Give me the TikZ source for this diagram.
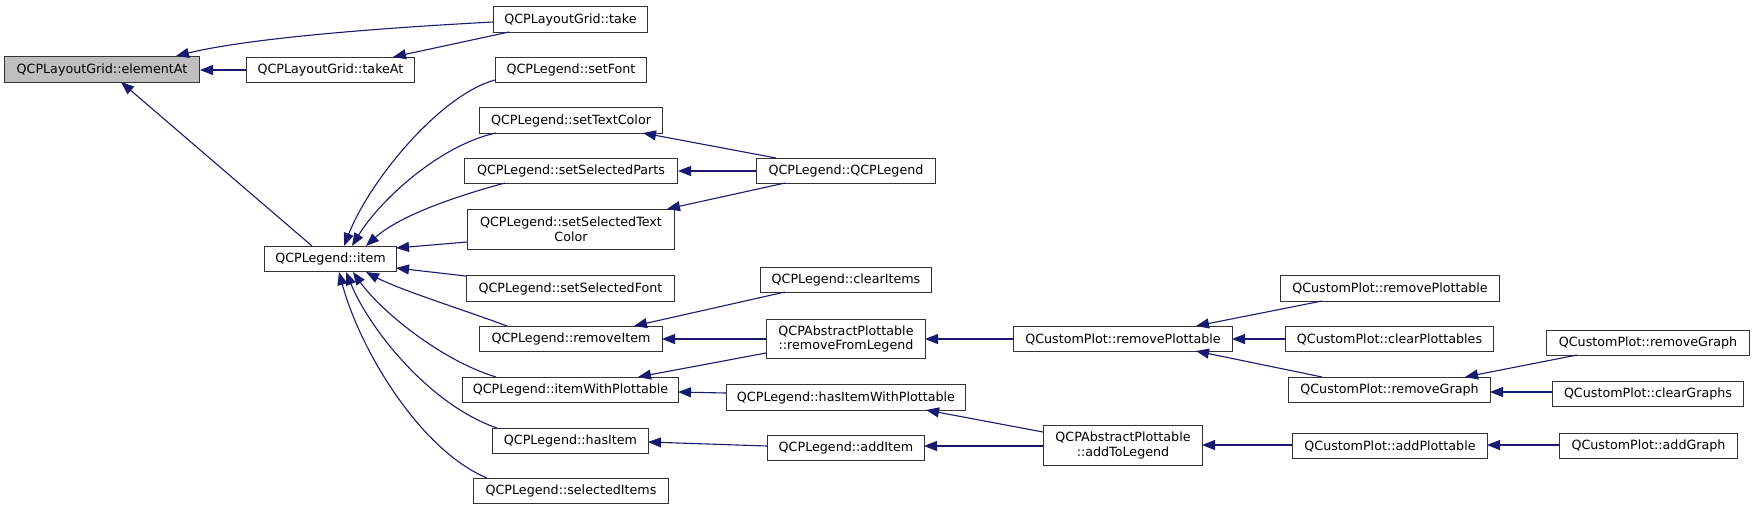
\documentclass[tikz,border=0pt]{standalone}
\usepackage{fontspec}
\setmainfont{DejaVu Sans}
\usetikzlibrary{arrows.meta}
\definecolor{edgeblue}{RGB}{25,25,112}
\definecolor{boxgray}{RGB}{191,191,191}
\begin{document}
\begin{tikzpicture}[x=1pt,y=-1pt,
  box/.style={draw=black!80, line width=1pt, fill=white, inner sep=0pt, anchor=north west,
    font=\fontsize{12.7}{14.6}\selectfont, align=center, minimum height=25pt},
  tall/.style={minimum height=40pt},
  edge/.style={draw=edgeblue, line width=1.1pt, -{Triangle[length=13pt,width=10pt]}}]
\useasboundingbox (0,0) rectangle (1755,509);
% nodes
\node[box, fill=boxgray, minimum width=195pt, minimum height=26pt] (el) at (4,56) {QCPLayoutGrid::elementAt};
\node[box, minimum width=168pt] (takeAt) at (246,57) {QCPLayoutGrid::takeAt};
\node[box, minimum width=154pt, minimum height=26pt] (take) at (493,6) {QCPLayoutGrid::take};
\node[box, minimum width=151pt] (setFont) at (495,57) {QCPLegend::setFont};
\node[box, minimum width=183pt, minimum height=26pt] (stc) at (479,107) {QCPLegend::setTextColor};
\node[box, minimum width=213pt] (ssp) at (464,158) {QCPLegend::setSelectedParts};
\node[box, tall, minimum width=207pt] (sstc) at (467,209) {QCPLegend::setSelectedText\\Color};
\node[box, minimum width=132pt] (item) at (264,246) {QCPLegend::item};
\node[box, minimum width=208pt, minimum height=26pt] (ssf) at (466,275) {QCPLegend::setSelectedFont};
\node[box, minimum width=183pt] (ri) at (479,326) {QCPLegend::removeItem};
\node[box, minimum width=216pt] (iwp) at (462,377) {QCPLegend::itemWithPlottable};
\node[box, minimum width=156pt] (hi) at (492,428) {QCPLegend::hasItem};
\node[box, minimum width=195pt] (si) at (473,478) {QCPLegend::selectedItems};
\node[box, minimum width=179pt] (ql) at (756,158) {QCPLegend::QCPLegend};
\node[box, minimum width=171pt] (ci) at (760,267) {QCPLegend::clearItems};
\node[box, minimum width=159pt, minimum height=39pt] (rfl) at (766,319) {QCPAbstractPlottable\\::removeFromLegend};
\node[box, minimum width=219pt] (rpc) at (1013,326) {QCustomPlot::removePlottable};
\node[box, minimum width=239pt, minimum height=26pt] (hiwp) at (726,384) {QCPLegend::hasItemWithPlottable};
\node[box, minimum width=157pt] (ai) at (767,435) {QCPLegend::addItem};
\node[box, tall, minimum width=159pt] (atl) at (1043,425) {QCPAbstractPlottable\\::addToLegend};
\node[box, minimum width=219pt, minimum height=26pt] (rpr) at (1280,275) {QCustomPlot::removePlottable};
\node[box, minimum width=208pt] (cp) at (1285,326) {QCustomPlot::clearPlottables};
\node[box, minimum width=202pt] (rgm) at (1288,377) {QCustomPlot::removeGraph};
\node[box, minimum width=203pt] (rgr) at (1546,330) {QCustomPlot::removeGraph};
\node[box, minimum width=191pt] (cg) at (1552,381) {QCustomPlot::clearGraphs};
\node[box, minimum width=195pt] (ap) at (1292,433) {QCustomPlot::addPlottable};
\node[box, minimum width=178pt] (ag) at (1559,433) {QCustomPlot::addGraph};
% edges
\draw[edge] ([shift={(0,16)}]take.north west) .. controls +(-113,6) and +(74,-18) .. ([shift={(172,0)}]el.north west);
\draw[edge] ([shift={(16,26)}]take.north west) -- ([shift={(147,0)}]takeAt.north west);
\draw[edge] (takeAt.west) -- (takeAt.west -| el.east);
\draw[edge] ([shift={(48,0)}]item.north west) -- ([shift={(117,26)}]el.north west);
\draw[edge] ([shift={(0,23)}]setFont.north west) .. controls +(-55,15) and +(26,-66) .. ([shift={(80,0)}]item.north west);
\draw[edge] ([shift={(17,26)}]stc.north west) .. controls +(-56,12) and +(28,-46) .. ([shift={(88,0)}]item.north west);
\draw[edge] ([shift={(41,25)}]ssp.north west) .. controls +(-45,12) and +(34,-31) .. ([shift={(102,0)}]item.north west);
\draw[edge] ([shift={(0,33)}]sstc.north west) -- ([shift={(132,2)}]item.north west);
\draw[edge] ([shift={(0,1)}]ssf.north west) -- ([shift={(132,22)}]item.north west);
\draw[edge] ([shift={(28,0)}]ri.north west) .. controls +(-37,-14) and +(34,18) .. ([shift={(102,26)}]item.north west);
\draw[edge] ([shift={(34,0)}]iwp.north west) .. controls +(-56,-17) and +(27,38) .. ([shift={(89,26)}]item.north west);
\draw[edge] ([shift={(5,0)}]hi.north west) .. controls +(-67,-23) and +(24,58) .. ([shift={(82,26)}]item.north west);
\draw[edge] ([shift={(14,0)}]si.north west) .. controls +(-67,-28) and +(21,78) .. ([shift={(75,26)}]item.north west);
\draw[edge] ([shift={(20,0)}]ql.north west) -- ([shift={(164,26)}]stc.north west);
\draw[edge] (ql.west) -- (ql.west -| ssp.east);
\draw[edge] ([shift={(29,25)}]ql.north west) -- ([shift={(200,0)}]sstc.north west);
\draw[edge] ([shift={(25,25)}]ci.north west) -- ([shift={(155,0)}]ri.north west);
\draw[edge] ([shift={(0,20)}]rfl.north west) -- ([shift={(183,13)}]ri.north west);
\draw[edge] ([shift={(0,34)}]rfl.north west) -- ([shift={(176,0)}]iwp.north west);
\draw[edge] ([shift={(0,9)}]hiwp.north west) -- ([shift={(216,15)}]iwp.north west);
\draw[edge] ([shift={(0,11)}]ai.north west) -- ([shift={(156,14)}]hi.north west);
\draw[edge] ([shift={(0,13)}]rpc.north west) -- ([shift={(159,20)}]rfl.north west);
\draw[edge] ([shift={(0,7)}]atl.north west) -- ([shift={(200,26)}]hiwp.north west);
\draw[edge] ([shift={(0,21)}]atl.north west) -- ([shift={(157,11)}]ai.north west);
\draw[edge] ([shift={(42,26)}]rpr.north west) -- ([shift={(183,0)}]rpc.north west);
\draw[edge] ([shift={(0,13)}]cp.north west) -- ([shift={(219,13)}]rpc.north west);
\draw[edge] ([shift={(34,0)}]rgm.north west) -- ([shift={(183,25)}]rpc.north west);
\draw[edge] ([shift={(31,25)}]rgr.north west) -- ([shift={(177,0)}]rgm.north west);
\draw[edge] ([shift={(0,11)}]cg.north west) -- ([shift={(202,15)}]rgm.north west);
\draw[edge] ([shift={(0,12)}]ap.north west) -- ([shift={(159,20)}]atl.north west);
\draw[edge] ([shift={(0,12)}]ag.north west) -- ([shift={(195,12)}]ap.north west);
\end{tikzpicture}
\end{document}
